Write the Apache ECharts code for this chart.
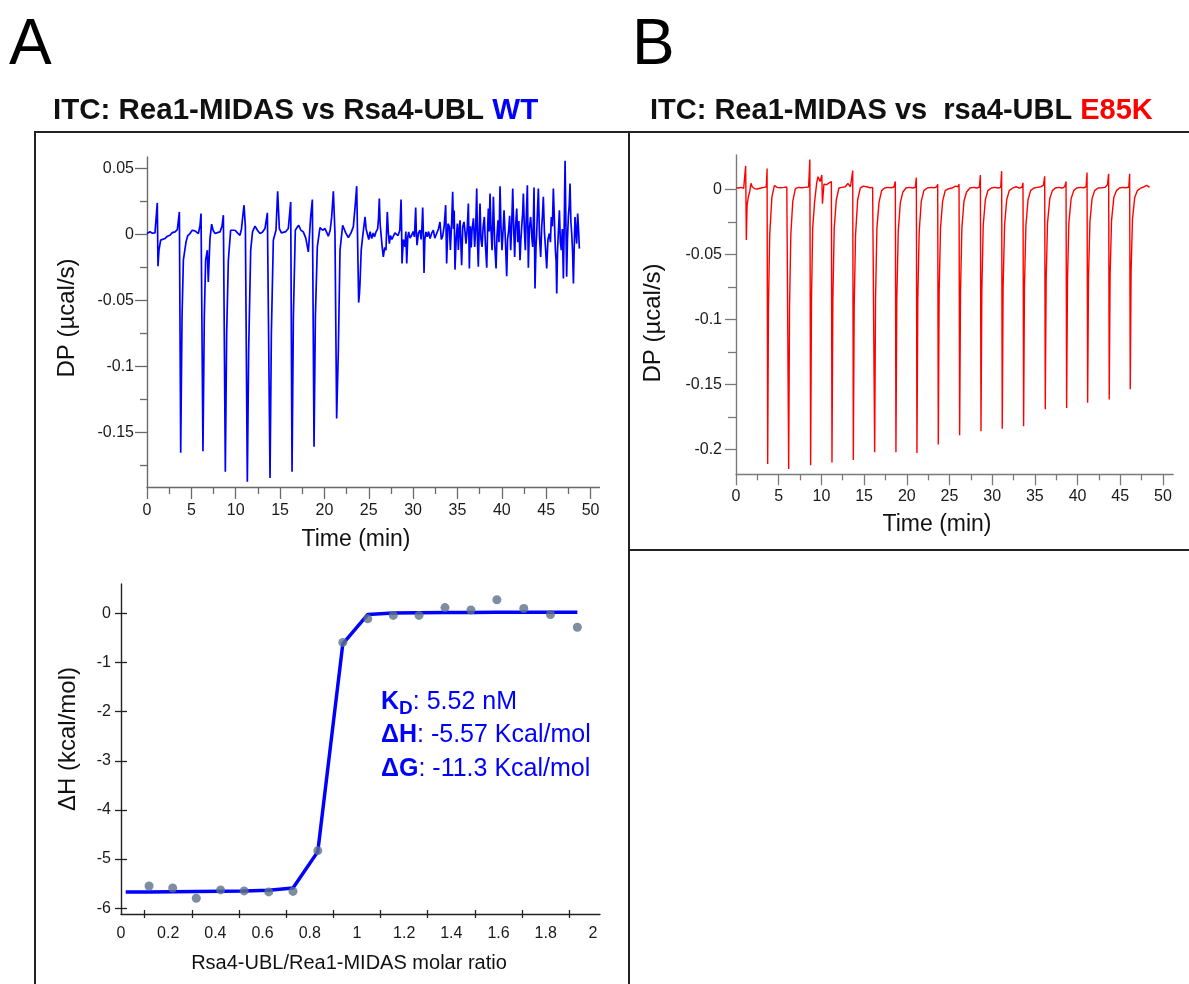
<!DOCTYPE html>
<html><head><meta charset="utf-8">
<script src="https://cdn.jsdelivr.net/npm/echarts@6/dist/echarts.min.js"></script>
<style>html,body{margin:0;padding:0;background:#fff}#c{width:1189px;height:984px}</style>
</head><body><div id="c"></div>
<script>
const FONT = '"Liberation Sans", Arial, sans-serif';
// ---------- tick values ----------
const timeTicks = [0,5,10,15,20,25,30,35,40,45,50];
const timeMinorTicks = [2.5,7.5,12.5,17.5,22.5,27.5,32.5,37.5,42.5,47.5];
const dpTicksA = [-0.15,-0.1,-0.05,0,0.05];
const dpMinorTicksA = [-0.175,-0.125,-0.075,-0.025,0.025];
const dpTicksB = [-0.2,-0.15,-0.1,-0.05,0];
const dpMinorTicksB = [-0.175,-0.125,-0.075,-0.025];
const ratioLabels = [0,0.2,0.4,0.6,0.8,1,1.2,1.4,1.6,1.8,2];
const ratioTicks = [0.1,0.3,0.5,0.7,0.9,1.1,1.3,1.5,1.7,1.9];
const dhTicks = [-6,-5,-4,-3,-2,-1,0];

// ---------- raw thermogram, WT (time min, DP ucal/s) ----------
const dpWT = [
[0.00,0.0005],[0.34,0.0018],[0.60,0.0008],[0.90,0.0010],[1.09,0.0005],[1.16,0.0237],[1.24,-0.0242],[1.35,-0.0120],[1.54,-0.0045],[2.03,-0.0033],[2.30,-0.0015],[2.59,-0.0008],[2.85,0.0012],[3.16,0.0018],[3.42,0.0035],[3.65,0.0169],[3.80,-0.1656],[3.95,-0.0626],[4.10,-0.0197],[4.40,-0.0058],[4.60,-0.0010],[4.85,0.0005],[5.10,0.0030],[5.41,0.0025],[5.60,0.0010],[5.79,0.0005],[5.98,0.0068],[6.09,0.0157],[6.31,-0.1644],[6.46,-0.0626],[6.61,-0.0197],[6.80,-0.0121],[6.91,-0.0361],[7.10,-0.0033],[7.29,0.0076],[7.45,0.0030],[7.67,0.0005],[7.95,0.0012],[8.23,0.0018],[8.45,0.0060],[8.61,0.0144],[8.83,-0.1800],[8.98,-0.0752],[9.17,-0.0197],[9.43,0.0030],[9.65,0.0045],[9.92,0.0030],[10.20,0.0010],[10.48,-0.0008],[10.65,0.0040],[10.79,0.0131],[10.94,0.0220],[11.09,0.0056],[11.31,-0.1876],[11.46,-0.0879],[11.69,-0.0121],[11.90,0.0020],[12.18,0.0061],[12.45,0.0030],[12.74,0.0005],[13.00,0.0015],[13.30,0.0043],[13.57,0.0162],[13.87,-0.1846],[14.02,-0.0752],[14.24,-0.0045],[14.54,0.0030],[14.73,0.0326],[14.92,0.0043],[15.15,0.0010],[15.37,0.0005],[15.65,0.0020],[15.93,0.0043],[16.20,0.0245],[16.35,-0.1800],[16.50,-0.0626],[16.72,0.0030],[16.90,0.0050],[17.10,0.0068],[17.35,0.0030],[17.62,0.0018],[17.90,-0.0030],[18.19,-0.0134],[18.45,0.0131],[18.64,0.0263],[18.83,-0.1610],[18.98,-0.0626],[19.20,-0.0096],[19.50,0.0050],[19.80,0.0030],[20.07,0.0043],[20.44,-0.0015],[20.65,0.0030],[20.82,0.0131],[21.01,0.0326],[21.19,0.0005],[21.38,-0.1396],[21.57,-0.0879],[21.76,-0.0121],[22.06,0.0068],[22.40,0.0010],[22.70,-0.0025],[23.00,0.0010],[23.26,0.0056],[23.49,0.0232],[23.64,0.0364],[23.86,-0.0518],[23.95,-0.045],[24.01,-0.0374],[24.15,-0.012],[24.31,-0.0020],[24.45,0.006],[24.58,0.0131],[24.7,0.004],[24.84,0.0030],[25.0,-0.004],[25.15,0.002],[25.33,-0.0033],[25.5,0.001],[25.65,-0.002],[25.82,0.0018],[26.0,0.004],[26.1,0.012],[26.19,0.0270],[26.28,0.008],[26.38,0.0005],[26.5,-0.009],[26.64,-0.0172],[26.8,-0.010],[26.94,-0.0121],[27.02,0.004],[27.09,0.0169],[27.2,0.002],[27.32,-0.0071],[27.45,-0.001],[27.6,-0.004],[27.77,-0.0025],[27.95,0.001],[28.15,0.0018],[28.3,-0.001],[28.5,0.003],[28.64,0.0263],[28.7,0.005],[28.75,-0.0222],[28.9,-0.004],[29.09,-0.0096],[29.18,0.002],[29.28,-0.0222],[29.4,-0.002],[29.50,0.0018],[29.65,-0.003],[29.84,-0.0008],[30.0,0.002],[30.15,-0.002],[30.29,0.0202],[30.36,0.002],[30.44,-0.0083],[30.6,0.001],[30.78,0.0030],[30.9,-0.004],[31.0,0.006],[31.08,0.0202],[31.15,0.002],[31.23,-0.0293],[31.32,-0.004],[31.45,0.0018],[31.6,-0.002],[31.75,0.002],[31.91,-0.0033],[32.1,0.001],[32.28,0.0030],[32.45,-0.003],[32.66,-0.0025],[32.85,0.004],[33.03,0.0093],[33.18,-0.004],[33.33,-0.0015],[33.5,0.006],[33.67,0.0220],[33.78,-0.0222],[33.93,0.008],[34.09,0.0056],[34.2,-0.012],[34.35,0.010],[34.46,0.0321],[34.55,0.004],[34.63,0.018],[34.72,-0.0268],[34.85,-0.004],[34.99,0.0081],[35.1,-0.012],[35.2,0.004],[35.29,0.0106],[35.38,-0.006],[35.47,-0.0235],[35.6,0.006],[35.74,0.0093],[35.85,0.002],[35.96,-0.0071],[36.1,0.004],[36.23,0.0232],[36.34,-0.0260],[36.45,0.006],[36.55,-0.01],[36.64,0.0030],[36.8,0.012],[36.94,-0.0096],[37.05,0.004],[37.17,0.0346],[37.26,-0.006],[37.35,-0.0247],[37.45,0.004],[37.54,0.0232],[37.65,-0.004],[37.77,-0.0096],[37.9,0.006],[38.03,0.0131],[38.15,-0.008],[38.30,-0.0253],[38.4,0.004],[38.48,0.0194],[38.58,0.002],[38.67,0.0308],[38.78,0.004],[38.90,-0.0121],[38.98,0.008],[39.05,0.0283],[39.2,-0.008],[39.35,-0.0260],[39.45,-0.002],[39.57,0.0106],[39.68,-0.006],[39.80,0.0364],[39.9,0.006],[40.02,-0.0121],[40.15,0.004],[40.25,0.0182],[40.4,-0.004],[40.55,-0.0318],[40.65,-0.004],[40.77,0.0030],[40.88,0.014],[41.00,-0.0121],[41.1,0.004],[41.23,0.0346],[41.35,0.002],[41.45,-0.0172],[41.55,0.006],[41.68,0.0194],[41.8,-0.006],[41.92,0.010],[42.05,-0.0197],[42.15,-0.004],[42.24,0.0056],[42.35,0.016],[42.43,0.0308],[42.55,0.002],[42.65,-0.0121],[42.75,0.012],[42.88,0.0371],[42.99,-0.0253],[43.1,0.004],[43.25,0.0131],[43.38,-0.002],[43.48,-0.0096],[43.55,0.008],[43.63,0.0354],[43.74,-0.0412],[43.85,-0.01],[43.93,0.0005],[44.02,0.018],[44.12,0.0346],[44.25,-0.002],[44.38,-0.0172],[44.5,0.006],[44.58,0.014],[44.68,0.0283],[44.8,0.002],[44.92,-0.01],[45.06,-0.0260],[45.2,-0.004],[45.36,0.0005],[45.48,-0.006],[45.58,0.0131],[45.7,0.006],[45.81,0.0346],[45.92,0.012],[46.04,-0.0121],[46.12,-0.02],[46.19,-0.0449],[46.28,-0.012],[46.37,0.0005],[46.49,0.0182],[46.6,-0.006],[46.71,-0.0121],[46.82,0.004],[46.94,-0.0336],[47.04,0.01],[47.13,0.0556],[47.22,0.01],[47.31,-0.0323],[47.4,-0.004],[47.50,0.0131],[47.6,0.022],[47.69,0.0384],[47.78,0.01],[47.88,0.0005],[47.98,-0.014],[48.07,-0.0374],[48.16,-0.01],[48.25,0.0131],[48.35,0.002],[48.44,-0.0071],[48.55,0.0157],[48.65,0.004],[48.74,-0.0109]
];

// ---------- raw thermogram, E85K ----------
const dpE85K = [
[0.05,0.0012],[0.3,0.001],[0.6,0.0015],[0.9,0.0008],[1.05,0.002],[1.13,0.018],[1.21,-0.039],[1.3,-0.012],[1.45,-0.0056],[1.6,-0.002],[1.75,0.0046],[1.9,0.002],[2.2,0.0005],[2.5,0.0003],[2.9,0.001],[3.3,0.0015],[3.55,0.002],[3.64,0.016],[3.71,-0.211],[3.8,-0.09],[3.95,-0.035],[4.2,-0.006],[4.5,0.003],[4.8,0.0015],[5.2,0.0012],[5.6,0.0015],[5.95,0.0018],[6.1,0.003],[6.17,-0.215],[6.27,-0.09],[6.42,-0.035],[6.65,-0.009],[6.95,0.0005],[7.3,0.0015],[7.7,0.0012],[8.1,0.0015],[8.5,0.0018],[8.65,0.023],[8.74,-0.212],[8.84,-0.085],[8.98,-0.03],[9.2,-0.01],[9.45,0.005],[9.6,0.0097],[9.85,0.006],[10.05,0.011],[10.12,-0.011],[10.3,0.004],[10.6,0.0035],[10.9,0.005],[11.1,0.0045],[11.17,0.006],[11.24,-0.210],[11.34,-0.085],[11.5,-0.03],[11.75,-0.008],[12.05,0.001],[12.4,0.0015],[12.8,0.002],[13.1,0.0045],[13.4,0.002],[13.6,0.003],[13.67,0.0144],[13.74,-0.208],[13.84,-0.09],[14.0,-0.035],[14.25,-0.008],[14.55,0.001],[14.9,0.0025],[15.3,0.002],[15.7,0.0012],[16.0,0.0015],[16.17,0.003],[16.24,-0.202],[16.34,-0.085],[16.5,-0.03],[16.75,-0.01],[17.05,-0.001],[17.4,0.001],[17.8,0.0015],[18.2,0.0012],[18.5,0.0018],[18.66,0.006],[18.73,-0.202],[18.83,-0.085],[19.0,-0.032],[19.25,-0.01],[19.55,-0.002],[19.9,0.001],[20.3,0.0015],[20.7,0.001],[21.0,0.0015],[21.12,0.009],[21.19,-0.2026],[21.29,-0.085],[21.45,-0.033],[21.7,-0.009],[22.0,-0.001],[22.4,0.001],[22.8,0.0015],[23.2,0.0012],[23.5,0.002],[23.62,0.004],[23.69,-0.196],[23.79,-0.08],[23.95,-0.03],[24.2,-0.009],[24.5,-0.001],[24.9,0.0005],[25.3,0.001],[25.7,0.0025],[26.0,0.002],[26.12,0.004],[26.19,-0.189],[26.29,-0.08],[26.45,-0.03],[26.7,-0.009],[27.0,-0.002],[27.4,0.001],[27.8,0.0015],[28.2,0.001],[28.5,0.0018],[28.62,0.011],[28.69,-0.186],[28.79,-0.078],[28.95,-0.028],[29.2,-0.008],[29.5,-0.001],[29.9,0.001],[30.3,0.0015],[30.7,0.001],[31.0,0.0015],[31.11,0.014],[31.18,-0.184],[31.28,-0.075],[31.45,-0.028],[31.7,-0.008],[32.0,-0.001],[32.4,0.001],[32.8,0.002],[33.2,0.001],[33.5,0.0018],[33.61,0.005],[33.68,-0.182],[33.78,-0.075],[33.95,-0.028],[34.2,-0.008],[34.5,-0.001],[34.9,0.001],[35.3,0.0015],[35.7,0.002],[36.0,0.003],[36.15,0.010],[36.22,-0.169],[36.32,-0.07],[36.48,-0.026],[36.75,-0.007],[37.05,-0.001],[37.4,0.001],[37.8,0.0015],[38.2,0.001],[38.5,0.002],[38.65,0.006],[38.72,-0.168],[38.82,-0.07],[38.98,-0.026],[39.25,-0.007],[39.55,-0.001],[39.9,0.001],[40.3,0.0015],[40.7,0.0012],[41.0,0.002],[41.11,0.013],[41.18,-0.164],[41.28,-0.068],[41.45,-0.025],[41.7,-0.007],[42.0,-0.001],[42.4,0.001],[42.8,0.0012],[43.2,0.0015],[43.5,0.0035],[43.64,0.012],[43.71,-0.1615],[43.81,-0.066],[43.98,-0.024],[44.25,-0.006],[44.55,-0.001],[44.9,0.001],[45.3,0.0015],[45.7,0.0012],[46.0,0.0018],[46.1,0.012],[46.17,-0.1536],[46.27,-0.063],[46.43,-0.023],[46.7,-0.006],[47.0,-0.001],[47.4,0.001],[47.8,0.002],[48.1,0.003],[48.44,0.0015]
];

// ---------- integrated isotherm, WT ----------
const molarRatio = [0.119,0.219,0.319,0.422,0.522,0.626,0.729,0.834,0.940,1.046,1.154,1.263,1.373,1.483,1.593,1.707,1.820,1.934];
const deltaH     = [-5.55,-5.59,-5.80,-5.63,-5.65,-5.67,-5.66,-4.83,-0.59,-0.11,-0.04,-0.04,0.12,0.07,0.28,0.10,-0.02,-0.28];
const fitRatio   = [0.02,0.119,0.219,0.319,0.422,0.522,0.626,0.729,0.834,0.940,1.046,1.154,1.263,1.373,1.483,1.593,1.707,1.820,1.934];
const fitDeltaH  = [-5.67,-5.67,-5.665,-5.66,-5.655,-5.65,-5.635,-5.59,-4.85,-0.62,-0.02,0.008,0.015,0.02,0.022,0.025,0.026,0.027,0.027];

const BLUE = '#0000ff', RED = '#ff0000';
const chart = echarts.init(document.getElementById('c'), null, {renderer:'canvas'});

function axis(kind, grid, min, max, o) {
  return {
    type:'value', gridIndex:grid, min:min, max:max,
    position: kind === 'x' ? 'bottom' : 'left', offset:0,
    splitLine:{show:false},
    axisLine:{show:o.line !== false, onZero:false, lineStyle:{color:o.color, width:1.4}},
    axisTick:{show:true, inside:!!o.inside, length:o.tl, customValues:o.ticks, lineStyle:{color:o.color, width:1.3}},
    axisLabel:{show:!!o.labels, customValues:o.labels || [], margin:o.margin || 8,
      fontSize:16, fontFamily:FONT, color:'#1a1a1a', showMinLabel:true, showMaxLabel:true},
    silent:true
  };
}

const option = {
  animation:false,
  backgroundColor:'#fff',
  grid:[
    {left:147, top:157, width:452.4, height:330, containLabel:false, outerBoundsMode:'none'},
    {left:121, top:584, width:479, height:330, containLabel:false, outerBoundsMode:'none'},
    {left:736, top:155, width:437.2, height:319.3, containLabel:false, outerBoundsMode:'none'}
  ],
  xAxis:[
    axis('x',0,0,51,{color:'#6a6a6a', ticks:timeTicks, tl:12, labels:timeTicks, margin:16}),
    axis('x',0,0,51,{color:'#6a6a6a', ticks:timeMinorTicks, tl:7, line:false}),
    axis('x',1,0,2.03,{color:'#222', ticks:ratioTicks, tl:4, inside:true, labels:ratioLabels, margin:12}),
    axis('x',1,0,2.03,{color:'#222', ticks:ratioTicks, tl:4, line:false}),
    axis('x',2,0,51.2,{color:'#7a7a7a', ticks:timeTicks, tl:11, labels:timeTicks, margin:14}),
    axis('x',2,0,51.2,{color:'#7a7a7a', ticks:timeMinorTicks, tl:6, line:false})
  ],
  yAxis:[
    axis('y',0,-0.1915,0.0585,{color:'#6a6a6a', ticks:dpTicksA, tl:12, labels:dpTicksA, margin:13}),
    axis('y',0,-0.1915,0.0585,{color:'#6a6a6a', ticks:dpMinorTicksA, tl:7, line:false}),
    axis('y',1,-6.12,0.6,{color:'#222', ticks:dhTicks, tl:6, inside:true, labels:dhTicks, margin:10}),
    axis('y',1,-6.12,0.6,{color:'#222', ticks:dhTicks, tl:6, line:false}),
    axis('y',2,-0.219,0.0264,{color:'#7a7a7a', ticks:dpTicksB, tl:11, labels:dpTicksB, margin:14}),
    axis('y',2,-0.219,0.0264,{color:'#7a7a7a', ticks:dpMinorTicksB, tl:8, line:false})
  ],
  series:[
    {type:'line', xAxisIndex:0, yAxisIndex:0, data:dpWT, showSymbol:false, symbol:'none',
      lineStyle:{color:BLUE, width:1.7}, silent:true},
    {type:'line', xAxisIndex:4, yAxisIndex:4, data:dpE85K, showSymbol:false, symbol:'none',
      lineStyle:{color:RED, width:1.4}, silent:true},
    {type:'line', xAxisIndex:2, yAxisIndex:2, data:fitRatio.map((r,i)=>[r,fitDeltaH[i]]),
      showSymbol:false, symbol:'none', lineStyle:{color:BLUE, width:3.5}, z:2, silent:true},
    {type:'scatter', xAxisIndex:2, yAxisIndex:2, data:molarRatio.map((r,i)=>[r,deltaH[i]]),
      symbolSize:9, itemStyle:{color:'#5e728a'}, z:3, silent:true}
  ],
  graphic:[
    {type:'polyline', shape:{points:[[35,984],[35,132],[629,132],[629,984]]}, style:{stroke:'#222', lineWidth:2, fill:null}},
    {type:'line', shape:{x1:629, y1:132, x2:1189, y2:132}, style:{stroke:'#222', lineWidth:2}},
    {type:'line', shape:{x1:629, y1:550, x2:1189, y2:550}, style:{stroke:'#222', lineWidth:2}},
    {type:'text', x:9, y:46, style:{text:'A', font:'64px ' + FONT, fill:'#000', align:'left', verticalAlign:'middle', textAlign:'left', textVerticalAlign:'middle'}},
    {type:'text', x:632, y:46, style:{text:'B', font:'64px ' + FONT, fill:'#000', align:'left', verticalAlign:'middle', textAlign:'left', textVerticalAlign:'middle'}},
    {type:'text', x:53, y:111, style:{text:'{k|ITC: Rea1-MIDAS vs Rsa4-UBL }{c|WT}', align:'left', verticalAlign:'middle', textAlign:'left', textVerticalAlign:'middle',
      rich:{k:{fontSize:29.5, fontWeight:'bold', fontFamily:FONT, fill:'#111'}, c:{fontSize:29.5, fontWeight:'bold', fontFamily:FONT, fill:BLUE}}}},
    {type:'text', x:650, y:111, style:{text:'{k|ITC: Rea1-MIDAS vs  rsa4-UBL }{c|E85K}', align:'left', verticalAlign:'middle', textAlign:'left', textVerticalAlign:'middle',
      rich:{k:{fontSize:29, fontWeight:'bold', fontFamily:FONT, fill:'#111'}, c:{fontSize:29, fontWeight:'bold', fontFamily:FONT, fill:RED}}}},
    {type:'text', x:356, y:540, style:{text:'Time (min)', font:'23px ' + FONT, fill:'#111', align:'center', verticalAlign:'middle', textAlign:'center', textVerticalAlign:'middle'}},
    {type:'text', x:67, y:318, rotation:Math.PI/2, style:{text:'DP (µcal/s)', font:'24px ' + FONT, fill:'#111', align:'center', verticalAlign:'middle', textAlign:'center', textVerticalAlign:'middle'}},
    {type:'text', x:937, y:525, style:{text:'Time (min)', font:'23px ' + FONT, fill:'#111', align:'center', verticalAlign:'middle', textAlign:'center', textVerticalAlign:'middle'}},
    {type:'text', x:653, y:323, rotation:Math.PI/2, style:{text:'DP (µcal/s)', font:'24px ' + FONT, fill:'#111', align:'center', verticalAlign:'middle', textAlign:'center', textVerticalAlign:'middle'}},
    {type:'text', x:68, y:739, rotation:Math.PI/2, style:{text:'ΔH (kcal/mol)', font:'24px ' + FONT, fill:'#111', align:'center', verticalAlign:'middle', textAlign:'center', textVerticalAlign:'middle'}},
    {type:'text', x:349, y:963, style:{text:'Rsa4-UBL/Rea1-MIDAS molar ratio', font:'20px ' + FONT, fill:'#111', align:'center', verticalAlign:'middle', textAlign:'center', textVerticalAlign:'middle'}},
    {type:'text', x:381, y:685, z:10, style:{
      text:'{b|K}{s|D}{r|: 5.52 nM}\n{b|ΔH}{r|: -5.57 Kcal/mol}\n{b|ΔG}{r|: -11.3 Kcal/mol}',
      align:'left', verticalAlign:'top', textAlign:'left', textVerticalAlign:'top',
      rich:{
        b:{fontSize:25, fontWeight:'bold', fontFamily:FONT, fill:BLUE, lineHeight:33.5},
        s:{fontSize:19, fontWeight:'bold', fontFamily:FONT, fill:BLUE, lineHeight:22, verticalAlign:'bottom'},
        r:{fontSize:25, fontFamily:FONT, fill:BLUE, lineHeight:33.5}
      }}}
  ]
};
chart.setOption(option);
</script>
</body></html>
